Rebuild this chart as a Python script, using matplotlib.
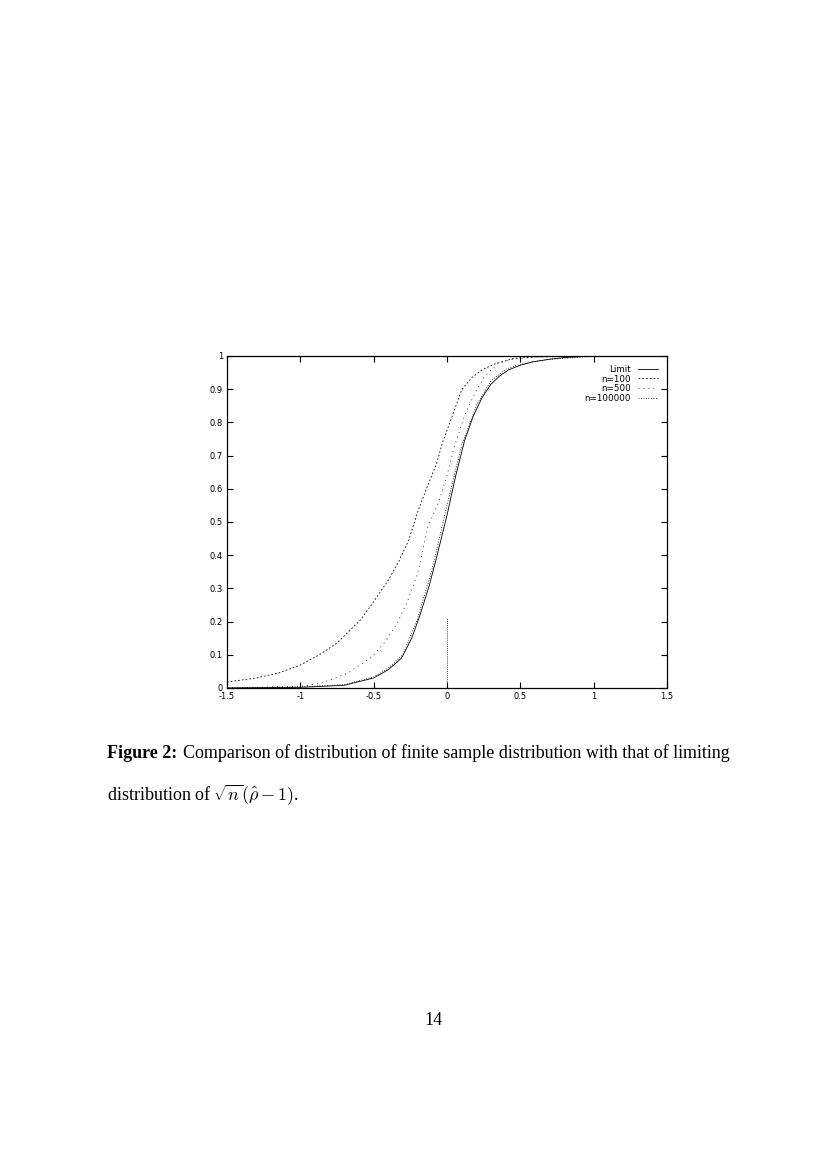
#!/usr/bin/env python3

import numpy as np
import matplotlib.pyplot as plt

# values
x_limit = [-1.5, -1.0, -0.7, -0.5, -0.4, -0.31, -0.24, -0.18, -0.12, -0.07, 0.0, 0.06, 0.12, 0.18, 0.24, 0.3, 0.36, 0.42, 0.5, 0.58, 0.7, 0.8, 0.92, 1.0, 1.5]
y_limit = [0.0, 0.002, 0.008, 0.03, 0.055, 0.09, 0.15, 0.225, 0.31, 0.395, 0.52, 0.64, 0.745, 0.82, 0.875, 0.915, 0.94, 0.958, 0.972, 0.982, 0.99, 0.995, 0.998, 0.999, 1.0]

x_n100 = [-1.5, -1.3, -1.15, -1.0, -0.87, -0.75, -0.59, -0.5, -0.4, -0.33, -0.26, -0.2, -0.14, -0.07, -0.03, 0.02, 0.1, 0.17, 0.24, 0.32, 0.46, 0.6, 0.8, 1.0, 1.5]
y_n100 = [0.018, 0.03, 0.045, 0.069, 0.1, 0.135, 0.205, 0.26, 0.325, 0.38, 0.446, 0.53, 0.6, 0.677, 0.74, 0.8, 0.898, 0.935, 0.958, 0.975, 0.993, 0.997, 0.999, 1.0, 1.0]

x_n500 = [-1.5, -1.0, -0.86, -0.68, -0.51, -0.42, -0.34, -0.27, -0.2, -0.13, -0.06, 0.0, 0.05, 0.12, 0.19, 0.26, 0.35, 0.45, 0.6, 0.8, 1.0, 1.5]
y_n500 = [0.0, 0.005, 0.014, 0.044, 0.094, 0.14, 0.195, 0.26, 0.345, 0.486, 0.556, 0.64, 0.727, 0.82, 0.888, 0.94, 0.978, 0.99, 0.996, 0.999, 1.0, 1.0]

x_n100000 = [-1.5, -1.0, -0.7, -0.5, -0.4, -0.3, -0.2, -0.1, 0.0, 0.1, 0.2, 0.3, 0.4, 0.5, 0.7, 1.0, 1.5]
y_n100000 = [0.0, 0.003, 0.01, 0.033, 0.06, 0.1, 0.21, 0.36, 0.55, 0.73, 0.85, 0.925, 0.96, 0.975, 0.99, 0.999, 1.0]

# stray dotted segment at x = 0 in the original plot
x_zero = [0.0, 0.0]
y_zero = [0.0, 0.21]

fig = plt.figure(figsize=(8.27, 11.7), dpi=100)
ax = fig.add_axes([0.2745, 0.412, 0.532, 0.2838])

lw = 0.6
ax.plot(x_limit, y_limit, '-', color='black', lw=lw, label='Limit')
ax.plot(x_n100, y_n100, color='black', lw=lw, ls=(0, (2, 2.5)), label='n=100')
ax.plot(x_n500, y_n500, color='black', lw=lw, ls=(0, (1, 5)), label='n=500')
ax.plot(x_n100000, y_n100000, color='black', lw=lw, ls=(0, (1, 2)), label='n=100000')
ax.plot(x_zero, y_zero, color='black', lw=lw, ls=(0, (1, 1.5)))

ax.set_xlim(-1.5, 1.5)
ax.set_ylim(0, 1)
ax.set_xticks([-1.5, -1, -0.5, 0, 0.5, 1, 1.5])
ax.set_xticklabels(['-1.5', '-1', '-0.5', '0', '0.5', '1', '1.5'])
ax.set_yticks(np.arange(0, 1.01, 0.1))
ax.set_yticklabels(['0', '0.1', '0.2', '0.3', '0.4', '0.5', '0.6', '0.7', '0.8', '0.9', '1'])
ax.tick_params(direction='in', length=4, width=0.8, labelsize=6, top=True, right=True, pad=3)
for s in ax.spines.values():
    s.set_linewidth(0.9)

leg = ax.legend(loc='upper right', frameon=False, fontsize=6.3, markerfirst=False,
                handlelength=2.3, handletextpad=0.8, labelspacing=0.1,
                borderaxespad=0.6)
for t in leg.get_texts():
    t.set_ha('right')

serif = ['Liberation Serif', 'DejaVu Serif']
fs = 13
fig.text(107 / 827, 1 - 758 / 1170, 'Figure 2:', family=serif, weight='bold', fontsize=fs)
fig.text(183 / 827, 1 - 758 / 1170,
         'Comparison of distribution of finite sample distribution with that of limiting',
         family=serif, fontsize=fs)
fig.text(107 / 827, 1 - 800 / 1170, r'distribution of $\sqrt{n}(\hat{\rho}-1)$.',
         family=serif, fontsize=fs, math_fontfamily='cm')
fig.text(433 / 827, 1 - 1025 / 1170, '14', family=serif, fontsize=fs, ha='center')

plt.savefig('out.png', dpi=100)
